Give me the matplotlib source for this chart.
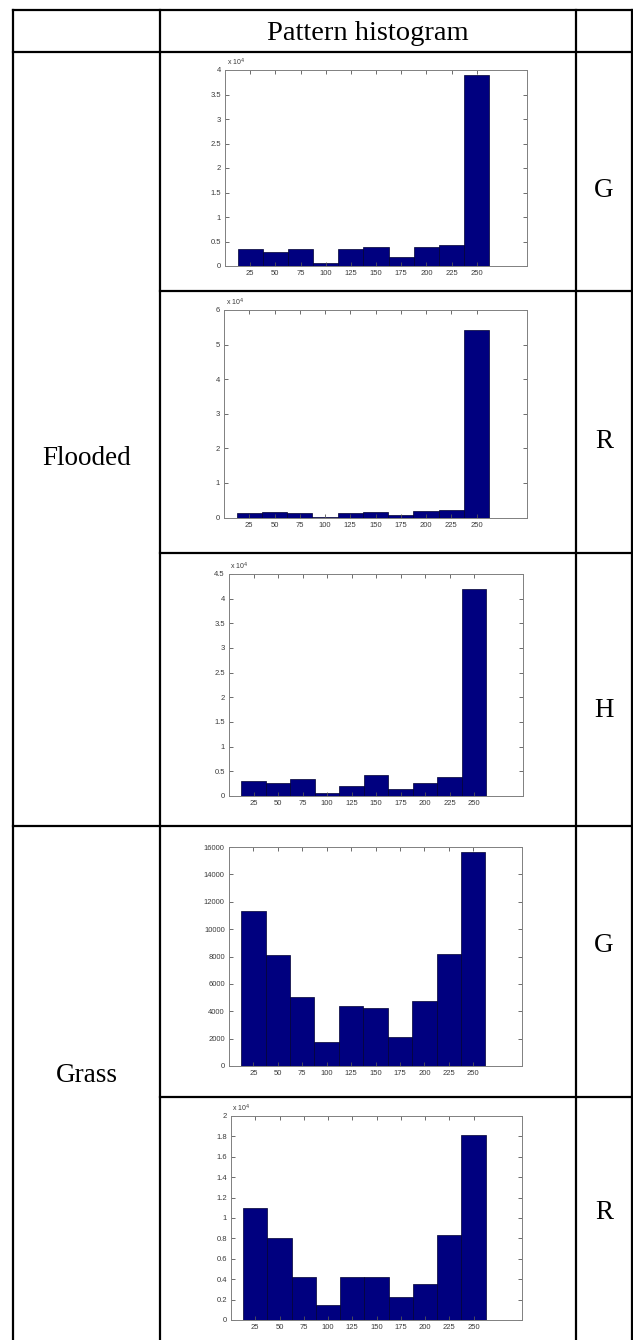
import matplotlib
matplotlib.use("Agg")
import matplotlib.pyplot as plt
from matplotlib.lines import Line2D
from matplotlib.ticker import FuncFormatter

W, H = 633, 1340
DPI = 100

# ---- data ----
bin_centers = [25, 50, 75, 100, 125, 150, 175, 200, 225, 250]
flooded_G = [3400, 2800, 3400, 550, 3500, 3800, 1850, 3800, 4300, 38900]
flooded_R = [1200, 1550, 1400, 200, 1400, 1550, 800, 1850, 2050, 54200]
flooded_H = [3100, 2700, 3500, 600, 2100, 4200, 1350, 2600, 3900, 41900]
grass_G = [11300, 8100, 5050, 1750, 4400, 4250, 2100, 4750, 8150, 15600]
grass_R = [11000, 8050, 4250, 1500, 4250, 4250, 2300, 3500, 8350, 18100]

header_text = "Pattern histogram"
class_labels = ["Flooded", "Grass"]
channel_labels = ["G", "R", "H", "G", "R"]

# (data, ymax, ystep, scale) per panel
panels = [
    (flooded_G, 40000, 5000, 1e4),
    (flooded_R, 60000, 10000, 1e4),
    (flooded_H, 45000, 5000, 1e4),
    (grass_G, 16000, 2000, 1),
    (grass_R, 20000, 2000, 1e4),
]
# axes boxes in pixels: left, right, top, bottom
boxes = [
    (225, 527, 70, 266),
    (224, 527, 310, 517.5),
    (229, 523, 574, 796),
    (229, 522, 847, 1066),
    (231, 522, 1116, 1320),
]

fig = plt.figure(figsize=(W / DPI, H / DPI), dpi=DPI)
fig.patch.set_facecolor("white")


def fx(x):
    return x / W


def fy(y):
    return 1 - y / H


def hline(y, x0, x1):
    fig.add_artist(Line2D([fx(x0), fx(x1)], [fy(y), fy(y)], transform=fig.transFigure,
                          color="black", lw=1.6, solid_capstyle="projecting"))


def vline(x, y0, y1):
    fig.add_artist(Line2D([fx(x), fx(x)], [fy(y0), fy(y1)], transform=fig.transFigure,
                          color="black", lw=1.6, solid_capstyle="projecting"))


# table grid
xl, xm, xr, xe = 13, 160, 576, 632
top = 10
vline(xl, top, H + 5)
vline(xm, top, H + 5)
vline(xr, top, H + 5)
vline(xe, top, H + 5)
hline(top, xl, xe)
hline(52, xl, xe)
hline(291, xm, xe)
hline(553, xm, xe)
hline(826, xl, xe)
hline(1097, xm, xe)

serif = ["Liberation Serif", "DejaVu Serif"]
FS = 19.5
fig.text(fx((xm + xr) / 2), fy(40), header_text, ha="center", va="baseline",
         fontsize=20.5, family=serif)
fig.text(fx((xl + xm) / 2), fy(465), class_labels[0], ha="center", va="baseline",
         fontsize=FS, family=serif)
fig.text(fx((xl + xm) / 2), fy(1082), class_labels[1], ha="center", va="baseline",
         fontsize=FS, family=serif)
label_base = [197, 448, 717, 952, 1219]
for lab, yb in zip(channel_labels, label_base):
    fig.text(fx((xr + xe) / 2), fy(yb), lab, ha="center", va="baseline",
             fontsize=FS, family=serif)

tick_color = "#3a3a3a"
sans = ["Liberation Sans", "DejaVu Sans"]
for (data, ymax, ystep, scale), (l, r, t, b) in zip(panels, boxes):
    ax = fig.add_axes([fx(l), fy(b), fx(r) - fx(l), (b - t) / H])
    ax.bar(bin_centers, data, width=25, color="#00007f", edgecolor="#000033",
           linewidth=0.5)
    ax.set_xlim(0, 300)
    ax.set_ylim(0, ymax)
    ax.set_xticks(bin_centers)
    n = int(round(ymax / ystep))
    ax.set_yticks([i * ystep for i in range(n + 1)])
    ax.yaxis.set_major_formatter(FuncFormatter(lambda v, p, s=scale: "%g" % round(v / s, 6)))
    ax.tick_params(direction="in", top=True, right=True, length=3, width=0.6,
                   labelsize=5.5, colors="#555555", labelcolor=tick_color, pad=3)
    for lbl in ax.get_xticklabels() + ax.get_yticklabels():
        lbl.set_family(sans)
    for sp in ax.spines.values():
        sp.set_color("#808080")
        sp.set_linewidth(0.7)
    if scale != 1:
        ax.text(0.005, 1.008, r"x 10$^{4}$", transform=ax.transAxes, fontsize=5,
                color=tick_color, ha="left", va="bottom", family=sans)

fig.savefig("out.png", dpi=DPI, facecolor="white")
